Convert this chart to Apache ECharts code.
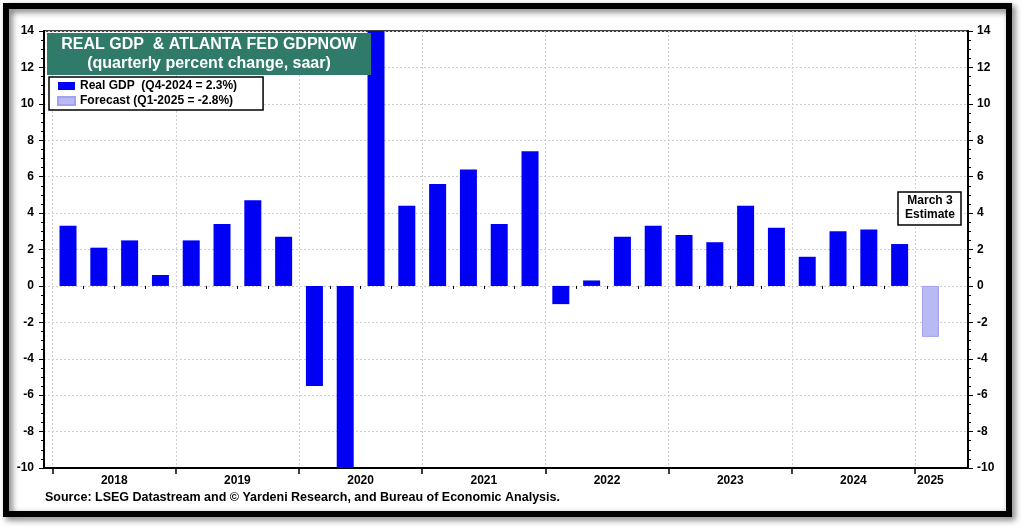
<!DOCTYPE html>
<html><head><meta charset="utf-8">
<script src="https://cdn.jsdelivr.net/npm/echarts@6/dist/echarts.min.js"></script>
<style>html,body{margin:0;padding:0;background:#fff}#c{width:1024px;height:530px}</style>
</head><body><div id="c"></div>
<script>
const quarters = ['2018Q1','2018Q2','2018Q3','2018Q4','2019Q1','2019Q2','2019Q3','2019Q4',
  '2020Q1','2020Q2','2020Q3','2020Q4','2021Q1','2021Q2','2021Q3','2021Q4',
  '2022Q1','2022Q2','2022Q3','2022Q4','2023Q1','2023Q2','2023Q3','2023Q4',
  '2024Q1','2024Q2','2024Q3','2024Q4','2025Q1'];
const realGdp = [3.3,2.1,2.5,0.6, 2.5,3.4,4.7,2.7, -5.5,-28.0,34.8,4.4, 5.6,6.4,3.4,7.4,
  -1.0,0.3,2.7,3.3, 2.8,2.4,4.4,3.2, 1.6,3.0,3.1,2.3, null];
const forecast = [null,null,null,null, null,null,null,null, null,null,null,null, null,null,null,null,
  null,null,null,null, null,null,null,null, null,null,null,null, -2.8];
const years = ['2018','2019','2020','2021','2022','2023','2024','2025'];

const X_MIN = -0.78, X_MAX = 29.22;
const FONT = '"Liberation Sans", Arial, sans-serif';

// year boundaries and label positions, derived from quarter list
const yearBounds = [];
const yearLabelPos = {};
years.forEach(y => {
  const idx = quarters.map((q,i)=>q.startsWith(y)?i:-1).filter(i=>i>=0);
  const a = idx[0]-0.5, b = Math.min(idx[idx.length-1]+0.5, X_MAX);
  yearBounds.push(a);
  yearLabelPos[Math.round(((a+b)/2)*100)] = y;
});
const labelVals = Object.keys(yearLabelPos).map(k => +k/100);
const quarterBounds = quarters.map((q,i)=>i-0.5).filter(v => !yearBounds.includes(v));

const chart = echarts.init(document.getElementById('c'), null, {renderer:'canvas'});
const axisTxt = {color:'#000', fontWeight:'bold', fontSize:12, fontFamily:FONT};

chart.setOption({
  animation:false,
  backgroundColor:'#fff',
  grid:{left:44, right:56, top:31, bottom:62, show:true, borderColor:'#000', borderWidth:1.5, containLabel:false},
  legend:{
    left:49, top:77, orient:'vertical', icon:'rect', itemWidth:17, itemHeight:8, itemGap:3,
    padding:[3,26,3,8], backgroundColor:'#fff', borderColor:'#000', borderWidth:1.5,
    textStyle:{color:'#000', fontWeight:'bold', fontSize:12, fontFamily:FONT},
    data:['Real GDP  (Q4-2024 = 2.3%)','Forecast (Q1-2025 = -2.8%)']
  },
  xAxis:[{
    type:'value', min:X_MIN, max:X_MAX, position:'bottom',
    axisLine:{show:true, onZero:false, lineStyle:{color:'#000', width:2}},
    axisTick:{show:true, customValues:yearBounds, length:6, lineStyle:{color:'#000', width:1.5}},
    axisLabel:{show:true, customValues:labelVals, margin:7, ...axisTxt,
      formatter:v => yearLabelPos[Math.round(v*100)] || ''},
    splitLine:{show:true, lineStyle:{color:'#cfcfcf', type:[2,2], width:1}}
  },{
    type:'value', min:X_MIN, max:X_MAX, position:'bottom',
    axisLine:{show:false}, axisLabel:{show:false}, splitLine:{show:false},
    axisTick:{show:true, customValues:quarterBounds, length:3, lineStyle:{color:'#000', width:1}}
  }],
  yAxis:[{
    type:'value', min:-10, max:14, interval:2, position:'left',
    axisLine:{show:true, onZero:false, lineStyle:{color:'#000', width:2}},
    axisTick:{show:true, length:5, lineStyle:{color:'#000'}},
    minorTick:{show:true, splitNumber:4, length:3, lineStyle:{color:'#000'}},
    axisLabel:{margin:10, ...axisTxt},
    splitLine:{show:true, lineStyle:{color:'#cfcfcf', type:[2,2], width:1}}
  },{
    type:'value', min:-10, max:14, interval:2, position:'right',
    axisLine:{show:true, onZero:false, lineStyle:{color:'#000', width:2}},
    axisTick:{show:true, length:5, lineStyle:{color:'#000'}},
    minorTick:{show:true, splitNumber:4, length:3, lineStyle:{color:'#000'}},
    axisLabel:{margin:9, ...axisTxt},
    splitLine:{show:false}
  }],
  series:[{
    name:'Real GDP  (Q4-2024 = 2.3%)', type:'bar', xAxisIndex:0, yAxisIndex:0,
    barWidth:17, barGap:'-100%', clip:true,
    itemStyle:{color:'#0000f5'},
    data:realGdp.map((v,i)=>[i,v])
  },{
    name:'Forecast (Q1-2025 = -2.8%)', type:'bar', xAxisIndex:0, yAxisIndex:0,
    barWidth:17, barGap:'-100%', clip:true,
    itemStyle:{color:'#b9b9f6', borderColor:'#a2a2ef', borderWidth:1},
    data:forecast.map((v,i)=>[i,v])
  }],
  graphic:[
    {type:'rect', z:100, shape:{x:6,y:6,width:1003,height:508},
     style:{fill:null, stroke:'#000', lineWidth:6, shadowBlur:6, shadowOffsetX:3, shadowOffsetY:3, shadowColor:'rgba(0,0,0,0.55)'}},
    {type:'rect', z:50, shape:{x:47,y:33,width:324,height:42}, style:{fill:'#2f7a68'}},
    {type:'text', z:51, x:209, y:45, style:{text:'REAL GDP  & ATLANTA FED GDPNOW', fill:'#fff',
      font:'bold 16px '+FONT, align:'center', verticalAlign:'middle'}},
    {type:'text', z:51, x:209, y:64, style:{text:'(quarterly percent change, saar)', fill:'#fff',
      font:'bold 16px '+FONT, align:'center', verticalAlign:'middle'}},
    {type:'rect', z:50, shape:{x:898,y:192,width:63,height:33}, style:{fill:'#fff', stroke:'#000', lineWidth:1.5}},
    {type:'text', z:51, x:930, y:201, style:{text:'March 3', fill:'#000', font:'bold 12px '+FONT, align:'center', verticalAlign:'middle'}},
    {type:'text', z:51, x:930, y:215, style:{text:'Estimate', fill:'#000', font:'bold 12px '+FONT, align:'center', verticalAlign:'middle'}},
    {type:'text', z:51, x:45, y:498, style:{text:'Source: LSEG Datastream and \u00A9 Yardeni Research, and Bureau of Economic Analysis.',
      fill:'#000', font:'bold 12.5px '+FONT, align:'left', verticalAlign:'middle'}}
  ]
});
</script></body></html>
